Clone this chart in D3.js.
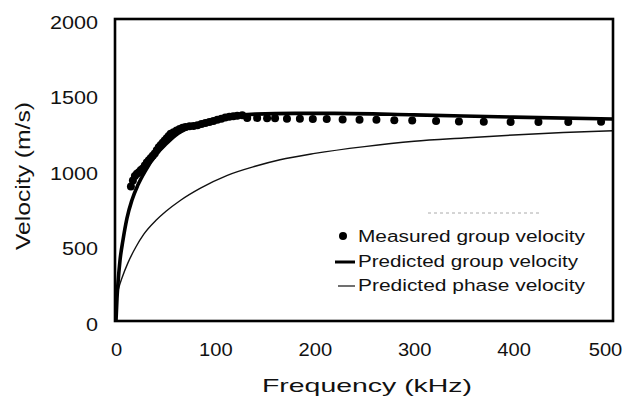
<!DOCTYPE html>
<html><head><meta charset="utf-8">
<script src="https://cdn.jsdelivr.net/npm/d3@7"></script>
<style>body{margin:0;background:#fff}svg{display:block}text{font-family:"Liberation Sans",Arial,sans-serif;fill:#111}</style>
</head><body><svg id="c" width="634" height="404"></svg>
<script>
const xTicks = [0,100,200,300,400,500];
const yTicks = [0,500,1000,1500,2000];
const groupF = [0,1,2,4,7,11,16,22,30,40,50,60,75,90,110,140,180,220,300,400,500];
const groupV = [0,150,250,400,535,680,800,900,1000,1100,1170,1230,1285,1320,1350,1370,1375,1375,1365,1350,1338];
const phaseF = [0,3,6,12,20,28,40,50,65,85,112,140,165,200,250,300,350,400,450,500];
const phaseV = [150,225,285,385,490,575,665,725,800,880,965,1025,1068,1110,1155,1190,1212,1232,1248,1260];
const measuredF = [15,17,19,21,23,25,27,29,31,33,35,37,39,41,43,45,47,49,51,53,55,58,61,64,67,70,74,78,82,86,90,94,98,102,106,110,114,118,122,127,132,142,152,160,172,185,198,212,228,245,262,280,298,322,345,370,397,425,455,488];
const measuredV = [890,930,960,975,985,1000,1010,1030,1050,1065,1080,1095,1110,1130,1150,1165,1180,1195,1210,1225,1240,1250,1262,1272,1280,1285,1290,1292,1297,1305,1312,1318,1325,1332,1340,1347,1352,1356,1360,1362,1345,1345,1343,1342,1340,1340,1338,1337,1335,1333,1332,1330,1328,1325,1322,1320,1318,1318,1318,1320];
const legendLabels = ["Measured group velocity","Predicted group velocity","Predicted phase velocity"];
const xTitle = "Frequency (kHz)";
const yTitle = "Velocity (m/s)";

const svg = d3.select("#c");
const x = d3.scaleLinear().domain([0,500]).range([116,613]);
const y = d3.scaleLinear().domain([0,2000]).range([321,19]);

const line = d3.line().curve(d3.curveMonotoneX);
svg.append("path").datum(phaseF.map((f,i)=>[x(f),y(phaseV[i])]))
  .attr("d",line).attr("fill","none").attr("stroke","#111").attr("stroke-width",1.4);
svg.append("path").datum(groupF.map((f,i)=>[x(f),y(groupV[i])]))
  .attr("d",line).attr("fill","none").attr("stroke","#000").attr("stroke-width",3.6);
svg.selectAll("circle.m").data(measuredF.map((f,i)=>[f,measuredV[i]])).enter()
  .append("circle").attr("class","m").attr("cx",d=>x(d[0])).attr("cy",d=>y(d[1])).attr("r",4).attr("fill","#000");

svg.append("rect").attr("x",x(0)-1).attr("y",y(2000)).attr("width",x(500)-x(0)+1).attr("height",y(0)-y(2000))
  .attr("fill","none").attr("stroke","#000").attr("stroke-width",2.6);

const xa = svg.append("g").attr("transform",`translate(0,${y(0)})`)
  .call(d3.axisBottom(x).tickValues(xTicks).tickSize(0).tickPadding(22).tickFormat(d3.format("d")));
xa.select(".domain").remove();
xa.selectAll("text").attr("font-size",18).attr("fill","#111")
  .attr("dx",d=>d===500?-8:0)
  .attr("textLength",d=>String(d).length*11.2).attr("lengthAdjust","spacingAndGlyphs");
const ya = svg.append("g").attr("transform",`translate(${x(0)},0)`)
  .call(d3.axisLeft(y).tickValues(yTicks).tickSize(0).tickPadding(18).tickFormat(d3.format("d")));
ya.select(".domain").remove();
ya.selectAll("text").attr("font-size",18).attr("fill","#111").attr("dy","0.5em")
  .attr("textLength",d=>String(d).length*12).attr("lengthAdjust","spacingAndGlyphs");

svg.append("text").attr("x",367).attr("y",392).attr("text-anchor","middle").attr("font-size",19)
  .attr("textLength",210).attr("lengthAdjust","spacingAndGlyphs").text(xTitle);
svg.append("text").attr("transform","translate(30,176) rotate(-90)").attr("text-anchor","middle").attr("font-size",20)
  .attr("textLength",148).attr("lengthAdjust","spacingAndGlyphs").text(yTitle);

const lg = svg.append("g");
lg.append("line").attr("x1",428).attr("x2",540).attr("y1",213).attr("y2",213).attr("stroke","#aaa").attr("stroke-width",1).attr("stroke-dasharray","3,3");
lg.append("circle").attr("cx",343).attr("cy",236).attr("r",4).attr("fill","#000");
lg.append("line").attr("x1",335).attr("x2",355).attr("y1",262).attr("y2",262).attr("stroke","#000").attr("stroke-width",3);
lg.append("line").attr("x1",338).attr("x2",355).attr("y1",286).attr("y2",286).attr("stroke","#111").attr("stroke-width",1.2);
const lw = [227,220,227];
const ly = [242,267,291];
legendLabels.forEach((t,i)=>{
  lg.append("text").attr("x",358).attr("y",ly[i]).attr("font-size",16)
    .attr("textLength",lw[i]).attr("lengthAdjust","spacingAndGlyphs").text(t);
});
</script></body></html>
